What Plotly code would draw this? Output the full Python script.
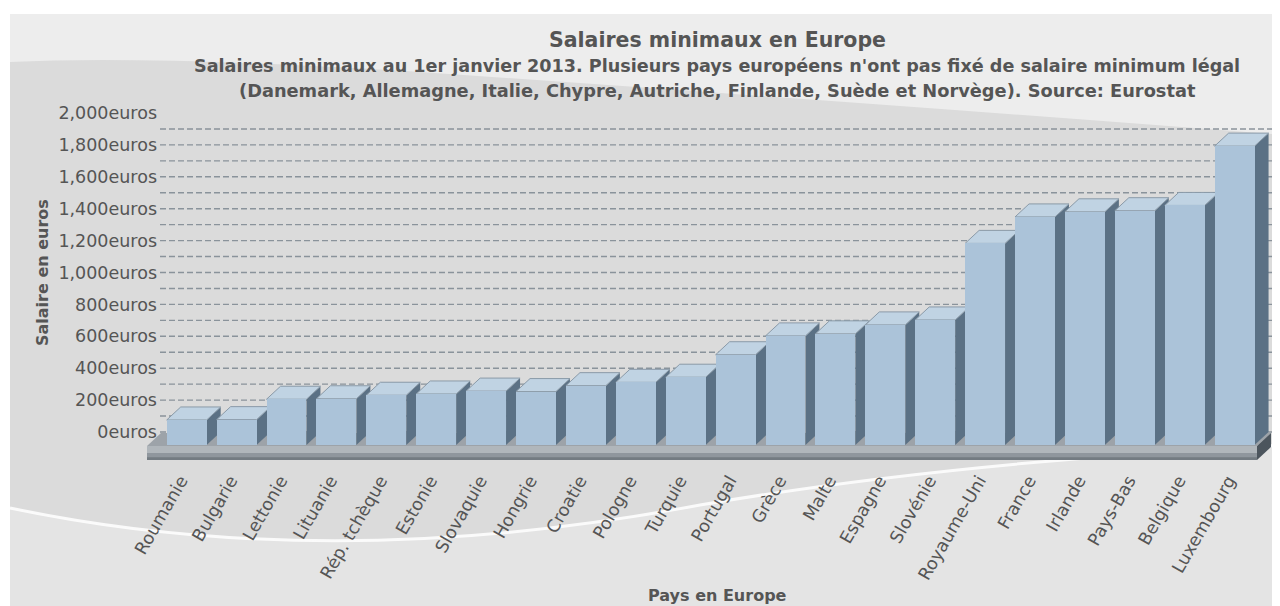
import plotly.graph_objects as go

# ---------------- data ----------------
countries = ["Roumanie", "Bulgarie", "Lettonie", "Lituanie", "Rép. tchèque", "Estonie",
             "Slovaquie", "Hongrie", "Croatie", "Pologne", "Turquie", "Portugal", "Grèce",
             "Malte", "Espagne", "Slovénie", "Royaume-Uni", "France", "Irlande", "Pays-Bas",
             "Belgique", "Luxembourg"]
salaries = [157, 159, 287, 290, 312, 320, 338, 335, 372, 393, 425, 566, 684, 697, 753,
            784, 1264, 1430, 1462, 1469, 1502, 1874]
y_tick_values = list(range(0, 2001, 200))
y_tick_labels = [f"{v:,}euros" for v in y_tick_values]
grid_values = list(range(0, 2000, 100))

title_text = "Salaires minimaux en Europe"
subtitle_lines = ["Salaires minimaux au 1er janvier 2013. Plusieurs pays européens n'ont pas fixé de salaire minimum légal",
                  "(Danemark, Allemagne, Italie, Chypre, Autriche, Finlande, Suède et Norvège). Source: Eurostat"]
x_title = "Pays en Europe"
y_title = "Salaire en euros"

# ---------------- geometry / style (page pixels) ----------------
PAGE_OFF = 8                      # default body margin of the html page
FIG_W, FIG_H = 1280 - PAGE_OFF, 606 - PAGE_OFF
PLOT_L, PLOT_R, PLOT_T, PLOT_B = 147, 1273, 100, 460
ML = PLOT_L - PAGE_OFF
MT = PLOT_T - PAGE_OFF
MR = FIG_W - (PLOT_R - PAGE_OFF)
MB = FIG_H - (PLOT_B - PAGE_OFF)
PW = PLOT_R - PLOT_L
PH = PLOT_B - PLOT_T
PX_PER_CAT = 49.9
PX_PER_EUR = 0.1595
FIRST_CAT_PX = 186.7
FRONT_ZERO_PX = 445
BACK_ZERO_PX = 432
DEPTH_X_PX, DEPTH_Y_PX = 14, 13
BAR_W = 0.8

x_lo = -(FIRST_CAT_PX - PLOT_L) / PX_PER_CAT
x_range = [x_lo, x_lo + PW / PX_PER_CAT]
y2_range = [-(PLOT_B - FRONT_ZERO_PX) / PX_PER_EUR, (FRONT_ZERO_PX - PLOT_T) / PX_PER_EUR]
y_range = [-(PLOT_B - BACK_ZERO_PX) / PX_PER_EUR, (BACK_ZERO_PX - PLOT_T) / PX_PER_EUR]
DX = DEPTH_X_PX / PX_PER_CAT
DY = DEPTH_Y_PX / PX_PER_EUR

FONT = "DejaVu Sans"
TXT = "#555555"


def pxx(px):
    return (px - PLOT_L) / PW


def pxy(py):
    return (PLOT_B - py) / PH


def path(pts):
    return "M " + " L ".join(f"{x:.5f},{y:.5f}" for x, y in pts) + " Z"


shapes = []

# background (paper coordinates)
shapes.append(dict(type="rect", xref="paper", yref="paper", x0=pxx(10), x1=pxx(1285),
                   y0=pxy(610), y1=pxy(14), fillcolor="#dbdbdb", line_width=0, layer="below"))
top_band = (f"M {pxx(10)},{pxy(14)} L {pxx(1285)},{pxy(14)} L {pxx(1285)},{pxy(135)} "
            f"Q {pxx(900)},{pxy(105)} {pxx(420)},{pxy(72)} Q {pxx(150)},{pxy(55)} {pxx(10)},{pxy(62)} Z")
shapes.append(dict(type="path", xref="paper", yref="paper", path=top_band,
                   fillcolor="#ededed", line_width=0, layer="below"))
bottom_band = (f"M {pxx(10)},{pxy(508)} Q {pxx(330)},{pxy(575)} {pxx(700)},{pxy(505)} "
               f"Q {pxx(950)},{pxy(462)} {pxx(1285)},{pxy(445)} L {pxx(1285)},{pxy(610)} "
               f"L {pxx(10)},{pxy(610)} Z")
shapes.append(dict(type="path", xref="paper", yref="paper", path=bottom_band,
                   fillcolor="#e4e4e4", line_width=0, layer="below"))
swoosh = (f"M {pxx(10)},{pxy(508)} Q {pxx(330)},{pxy(575)} {pxx(700)},{pxy(505)} "
          f"Q {pxx(950)},{pxy(462)} {pxx(1285)},{pxy(445)}")
shapes.append(dict(type="path", xref="paper", yref="paper", path=swoosh,
                   line=dict(color="rgba(255,255,255,0.85)", width=3), layer="below"))

# back-wall dashed grid lines
for g in grid_values:
    shapes.append(dict(type="line", xref="paper", yref="y", x0=pxx(160), x1=pxx(1272), y0=g, y1=g,
                       line=dict(color="#8a939b", width=1.4, dash="6px,3px"), layer="below"))

# floor slab
n = len(countries)
floor_x1 = x_lo + (1257 - PLOT_L) / PX_PER_CAT
floor_top = -(446 - FRONT_ZERO_PX) / PX_PER_EUR
floor_bot = y2_range[0]
shapes.append(dict(type="path", xref="x", yref="y2", layer="below", line_width=0, fillcolor="#9da3a9",
                   path=path([(x_lo, floor_top), (floor_x1, floor_top),
                              (floor_x1 + DX, floor_top + DY), (x_lo + DX, floor_top + DY)])))
shapes.append(dict(type="path", xref="x", yref="y2", layer="below", line_width=0, fillcolor="#b0b6bb",
                   path=path([(x_lo, floor_bot), (floor_x1, floor_bot), (floor_x1, floor_top), (x_lo, floor_top)])))
mid = (floor_top + floor_bot) / 2
shapes.append(dict(type="path", xref="x", yref="y2", layer="below", line_width=0, fillcolor="#8f969d",
                   path=path([(x_lo, floor_bot), (floor_x1, floor_bot), (floor_x1, mid), (x_lo, mid)])))
low = floor_bot + (floor_top - floor_bot) * 0.2
shapes.append(dict(type="path", xref="x", yref="y2", layer="below", line_width=0, fillcolor="#737b82",
                   path=path([(x_lo, floor_bot), (floor_x1, floor_bot), (floor_x1, low), (x_lo, low)])))
shapes.append(dict(type="path", xref="x", yref="y2", layer="below", line_width=0, fillcolor="#4c555d",
                   path=path([(floor_x1, floor_bot), (floor_x1, floor_top), (floor_x1 + DX, floor_top + DY),
                              (floor_x1 + DX, floor_bot + DY)])))

# 3D faces of each bar (side + top), behind the front faces drawn by the Bar trace
for i, v in enumerate(salaries):
    xl, xr = i - BAR_W / 2, i + BAR_W / 2
    shapes.append(dict(type="path", xref="x", yref="y2", layer="below", line_width=0, fillcolor="#5b7185",
                       path=path([(xr, 0), (xr, v), (xr + DX, v + DY), (xr + DX, DY)])))
    shapes.append(dict(type="path", xref="x", yref="y2", layer="below",
                       line=dict(color="#8a9aa8", width=1), fillcolor="#c0d3e3",
                       path=path([(xl, v), (xr, v), (xr + DX, v + DY), (xl + DX, v + DY)])))

fig = go.Figure()
fig.add_trace(go.Scatter(x=[None], y=[None], xaxis="x", yaxis="y", showlegend=False, hoverinfo="skip"))
fig.add_trace(go.Bar(x=list(range(n)), y=salaries, width=BAR_W, xaxis="x", yaxis="y2",
                     marker=dict(color="#abc3d9", line=dict(width=0)),
                     customdata=countries,
                     hovertemplate="%{customdata}: %{y:,}euros<extra></extra>", showlegend=False))

annotations = [
    dict(text=f"<b>{title_text}</b>", x=pxx(717), y=pxy(40), xref="paper", yref="paper",
         showarrow=False, font=dict(family=FONT, size=20.5, color=TXT), xanchor="center", yanchor="middle"),
    dict(text=f"<b>{subtitle_lines[0]}</b>", x=pxx(717), y=pxy(66), xref="paper", yref="paper",
         showarrow=False, font=dict(family=FONT, size=17.6, color=TXT), xanchor="center", yanchor="middle"),
    dict(text=f"<b>{subtitle_lines[1]}</b>", x=pxx(717), y=pxy(90), xref="paper", yref="paper",
         showarrow=False, font=dict(family=FONT, size=17.8, color=TXT), xanchor="center", yanchor="middle"),
    dict(text=f"<b>{y_title}</b>", x=pxx(42), y=pxy(273), xref="paper", yref="paper", textangle=-90,
         showarrow=False, font=dict(family=FONT, size=16, color=TXT), xanchor="center", yanchor="middle"),
    dict(text=f"<b>{x_title}</b>", x=pxx(717), y=pxy(595), xref="paper", yref="paper",
         showarrow=False, font=dict(family=FONT, size=16, color=TXT), xanchor="center", yanchor="middle"),
]

fig.update_layout(
    width=FIG_W, height=FIG_H, autosize=False,
    margin=dict(l=ML, r=MR, t=MT, b=MB, pad=0),
    paper_bgcolor="white", plot_bgcolor="rgba(0,0,0,0)",
    showlegend=False, bargap=0,
    shapes=shapes, annotations=annotations,
    xaxis=dict(range=x_range, tickmode="array", tickvals=list(range(n)), ticktext=countries,
               tickangle=-60, showgrid=False, zeroline=False, showline=False, ticks="",
               ticklabelshift=-6, ticklabelstandoff=6,
               tickfont=dict(family=FONT, size=17.5, color=TXT), anchor="y", fixedrange=True),
    yaxis=dict(range=y_range, tickmode="array", tickvals=y_tick_values, ticktext=y_tick_labels,
               showgrid=False, zeroline=False, showline=False, ticks="",
               anchor="free", position=pxx(157), side="left",
               tickfont=dict(family=FONT, size=17.5, color=TXT), fixedrange=True),
    yaxis2=dict(range=y2_range, overlaying="y", visible=False, showgrid=False, zeroline=False,
                fixedrange=True),
)

fig.write_html("out.html")
